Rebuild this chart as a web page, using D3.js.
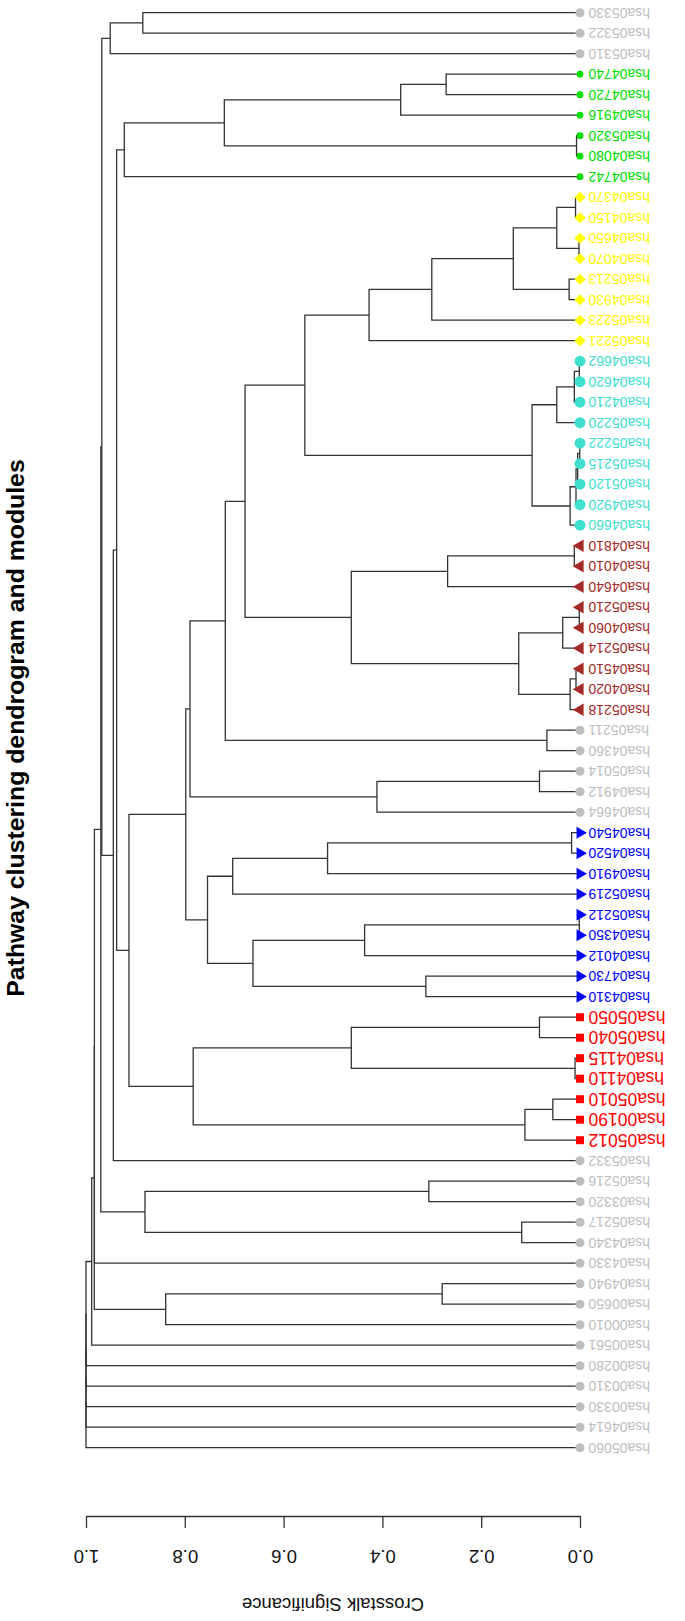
<!DOCTYPE html>
<html>
<head>
<meta charset="utf-8">
<script src="https://cdn.jsdelivr.net/npm/d3@7"></script>
<style>
  body { margin: 0; background: #fff; }
  svg { display: block; font-family: "Liberation Sans", Arial, sans-serif; }
</style>
</head>
<body>
<script>
// leaves, top to bottom
const leaves = ['hsa05330','hsa05322','hsa05310','hsa04740','hsa04720','hsa04916','hsa05320','hsa04080','hsa04742',
  'hsa04370','hsa04150','hsa04650','hsa04070','hsa05213','hsa04930','hsa05223','hsa05221',
  'hsa04662','hsa04620','hsa04210','hsa05220','hsa05222','hsa05215','hsa05120','hsa04920','hsa04660',
  'hsa04810','hsa04010','hsa04640','hsa05210','hsa04060','hsa05214','hsa04510','hsa04020','hsa05218',
  'hsa05211','hsa04360','hsa05014','hsa04912','hsa04664',
  'hsa04540','hsa04520','hsa04910','hsa05219','hsa05212','hsa04350','hsa04012','hsa04730','hsa04310',
  'hsa05050','hsa05040','hsa04115','hsa04110','hsa05010','hsa00190','hsa05012',
  'hsa05332','hsa05216','hsa03320','hsa05217','hsa04340','hsa04330','hsa04940','hsa00650','hsa00010',
  'hsa00561','hsa00280','hsa00310','hsa00330','hsa04614','hsa05060'];

// module names and the module of every leaf (index into modules)
const modules = ['grey', 'green', 'yellow', 'turquoise', 'brown', 'blue', 'red'];
const leafModule = [0,0,0, 1,1,1,1,1,1, 2,2,2,2,2,2,2,2, 3,3,3,3,3,3,3,3,3, 4,4,4,4,4,4,4,4,4,
  0,0,0,0,0, 5,5,5,5,5,5,5,5,5, 6,6,6,6,6,6,6, 0,0,0,0,0,0,0,0,0,0,0,0,0,0,0];

// merges like R hclust: negative = leaf number, positive = earlier merge
const merges = [
  [-1,-2],[1,-3],[-4,-5],[3,-6],[-7,-8],[4,5],[6,-9],
  [-10,-11],[-12,-13],[8,9],[-14,-15],[10,11],[12,-16],[13,-17],
  [-18,-19],[15,-20],[16,-21],[-22,-23],[18,-24],[19,-25],[20,-26],[17,21],[14,22],
  [-27,-28],[24,-29],[-30,-31],[26,-32],[-33,-34],[28,-35],[27,29],[25,30],[23,31],
  [-36,-37],[32,33],[-38,-39],[35,-40],[34,36],
  [-41,-42],[38,-43],[39,-44],[-45,-46],[41,-47],[-48,-49],[42,43],[40,44],[37,45],
  [-50,-51],[-52,-53],[47,48],[-54,-55],[50,-56],[49,51],[46,52],
  [7,53],[54,-57],[2,55],[-58,-59],[-60,-61],[57,58],[56,59],[60,-62],
  [-63,-64],[62,-65],[61,63],[64,-66],[65,-67],[66,-68],[67,-69],[68,-70],[69,-71]
];
const heights = [
  0.885, 0.951, 0.271, 0.363, 0.007, 0.720, 0.9225,
  0.009, 0.002, 0.047, 0.022, 0.135, 0.300, 0.427,
  0.0014, 0.0115, 0.047, 0.0005, 0.0047, 0.0081, 0.020, 0.097, 0.557,
  0.0115, 0.268, 0.0014, 0.035, 0.0081, 0.020, 0.124, 0.463, 0.678,
  0.067, 0.718, 0.082, 0.411, 0.7895,
  0.017, 0.511, 0.703, 0.0014, 0.436, 0.312, 0.662, 0.754, 0.798,
  0.082, 0.010, 0.463, 0.055, 0.1115, 0.783, 0.913,
  0.938, 0.9447, 0.968, 0.306, 0.118, 0.8806, 0.970, 0.983,
  0.279, 0.8387, 0.9832, 0.9885, 1.0, 1.0, 1.0, 1.0, 1.0
];

const ticks = [0, 0.2, 0.4, 0.6, 0.8, 1.0];

// set variables
const w = 685;
const h = 1621;
const axisY = 1516;

const moduleColor = {grey: '#bebebe', green: '#00e000', yellow: '#ffff00', turquoise: '#40e0d0',
  brown: '#a52a2a', blue: '#0000ff', red: '#ff0000'};
const moduleSymbol = {
  grey:      {type: d3.symbolCircle,   size: 64, rot: 0},
  green:     {type: d3.symbolCircle,   size: 36, rot: 0},
  yellow:    {type: d3.symbolSquare,   size: 62, rot: 45},
  turquoise: {type: d3.symbolCircle,   size: 95, rot: 0},
  brown:     {type: d3.symbolTriangle, size: 68, rot: -90},
  blue:      {type: d3.symbolTriangle, size: 62, rot: 90},
  red:       {type: d3.symbolSquare,   size: 64, rot: 0}
};

//set range
const xScale = d3.scaleLinear().domain([0, 1]).range([580, 86]);
const yScale = d3.scalePoint().domain(leaves).range([12.7, 1447.7]);

//build node positions from the merges
const nodes = [];
const pos = ref => ref < 0 ? {y: yScale(leaves[-ref - 1]), h: 0} : nodes[ref - 1];
merges.forEach((m, i) => {
  const a = pos(m[0]), b = pos(m[1]);
  nodes.push({a: a, b: b, h: heights[i], y: (a.y + b.y) / 2});
});

//set canvas
const svg = d3.select('body').append('svg')
  .attr('width', w)
  .attr('height', h);

//draw dendrogram elbows
svg.append('g')
  .selectAll('path')
  .data(nodes)
  .enter()
  .append('path')
  .attr('d', d => `M${xScale(d.a.h)},${d.a.y}H${xScale(d.h)}V${d.b.y}H${xScale(d.b.h)}`)
  .attr('fill', 'none')
  .attr('stroke', '#333')
  .attr('stroke-width', 1.3);

//leaf symbols
const leafData = leaves.map((name, i) => ({name: name, mod: modules[leafModule[i]]}));

svg.append('g')
  .selectAll('path')
  .data(leafData)
  .enter()
  .append('path')
  .attr('d', d => d3.symbol().type(moduleSymbol[d.mod].type).size(moduleSymbol[d.mod].size)())
  .attr('transform', d => `translate(${xScale(0)},${yScale(d.name)}) rotate(${moduleSymbol[d.mod].rot})`)
  .attr('fill', d => moduleColor[d.mod]);

//leaf labels, upside down
svg.append('g')
  .selectAll('text')
  .data(leafData)
  .enter()
  .append('text')
  .attr('transform', d => `translate(${xScale(0) + 8.5},${yScale(d.name)}) rotate(180)`)
  .attr('text-anchor', 'end')
  .attr('dy', '0.36em')
  .style('font-size', d => d.mod === 'red' ? '17.5px' : '14px')
  .attr('fill', d => moduleColor[d.mod])
  .text(d => d.name);

//set axis
const xAxis = d3.axisBottom(xScale)
  .tickValues(ticks)
  .tickSize(12)
  .tickSizeOuter(0)
  .tickFormat(d3.format('.1f'));

const gx = svg.append('g')
  .attr('class', 'x-axis')
  .attr('transform', `translate(0,${axisY})`)
  .call(xAxis);

gx.selectAll('path, line').attr('stroke', '#333').attr('stroke-width', 1.3);
gx.selectAll('text')
  .attr('y', null)
  .attr('dy', '0.36em')
  .attr('transform', 'translate(0,41) rotate(180)')
  .attr('fill', '#111')
  .style('font-size', '18.5px')
  .style('font-family', '"Liberation Sans", Arial, sans-serif');

//axis title, upside down
svg.append('text')
  .attr('transform', `translate(${(xScale(0) + xScale(1)) / 2},1605) rotate(180)`)
  .attr('text-anchor', 'middle')
  .attr('dy', '0.36em')
  .style('font-size', '18.5px')
  .attr('fill', '#111')
  .text('Crosstalk Significance');

//chart title
svg.append('text')
  .attr('transform', 'translate(23.5,728) rotate(-90)')
  .attr('text-anchor', 'middle')
  .style('font-size', '24.8px')
  .style('font-weight', 'bold')
  .attr('fill', '#000')
  .text('Pathway clustering dendrogram and modules');
</script>
</body>
</html>
